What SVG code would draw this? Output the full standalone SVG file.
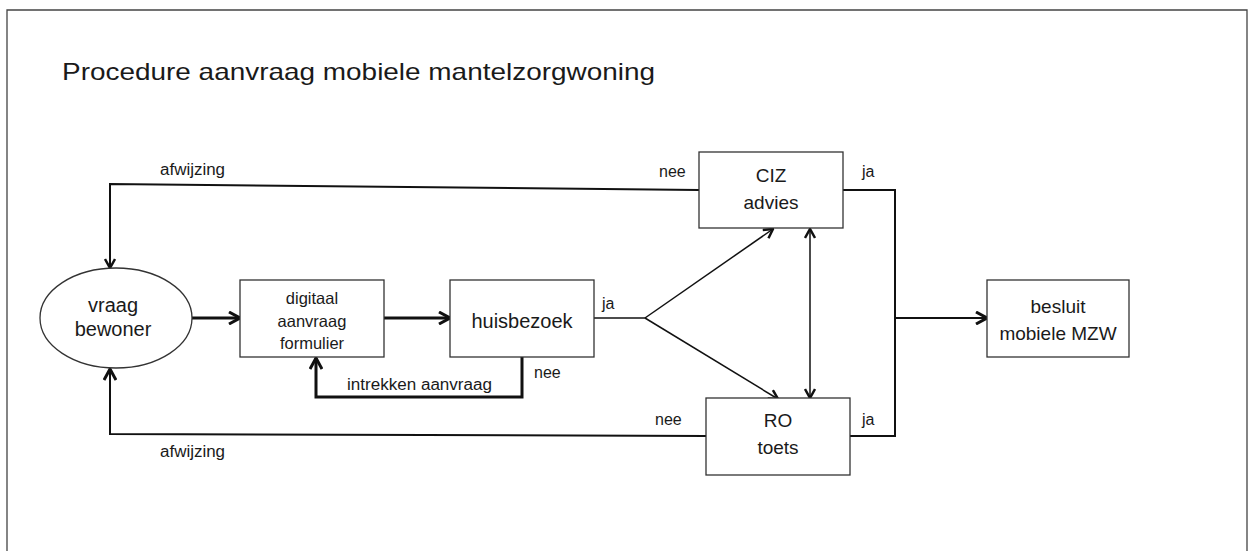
<svg xmlns="http://www.w3.org/2000/svg" width="1252" height="551" viewBox="0 0 1252 551">
<defs>
<style>
text{font-family:"Liberation Sans",Arial,sans-serif;fill:#1a1a1a}
.t{font-size:24px}
.n{font-size:19px;text-anchor:middle}
.s{font-size:16.5px;text-anchor:middle}
.l{font-size:16px}
.box{fill:#fff;stroke:#333;stroke-width:1.3}
.c{fill:none;stroke:#111;stroke-width:2}
.k{fill:none;stroke:#111;stroke-width:3}
.th{fill:none;stroke:#111;stroke-width:1.5}
</style>
<marker id="ah" viewBox="0 0 12 12" refX="11" refY="6" markerWidth="12" markerHeight="12" markerUnits="userSpaceOnUse" orient="auto-start-reverse">
<path d="M2,1 L11,6 L2,11" fill="none" stroke="#111" stroke-width="2.5"/>
</marker>
<marker id="ahk" viewBox="0 0 14 14" refX="13" refY="7" markerWidth="14" markerHeight="14" markerUnits="userSpaceOnUse" orient="auto-start-reverse">
<path d="M2,1 L13,7 L2,13" fill="none" stroke="#111" stroke-width="3"/>
</marker>
</defs>
<rect width="1252" height="551" fill="#fff"/>
<path d="M7,560 V10 H1247 V560" fill="none" stroke="#444" stroke-width="1.3"/>
<text class="t" x="62" y="80" textLength="593" lengthAdjust="spacingAndGlyphs">Procedure aanvraag mobiele mantelzorgwoning</text>

<g id="connectors">
<path class="k" d="M192,318 H240" marker-end="url(#ahk)"/>
<path class="k" d="M384,318 H450" marker-end="url(#ahk)"/>
<path class="k" d="M522,357 V397 H316 V358" marker-end="url(#ahk)"/>
<path class="th" d="M594,318 H645"/>
<path class="th" d="M645,318 L773,229" marker-end="url(#ah)"/>
<path class="th" d="M645,318 L778,399" marker-end="url(#ah)"/>
<path class="th" d="M810,229 V398" marker-start="url(#ah)" marker-end="url(#ah)"/>
<path class="c" d="M699,190 L110,184 V268" marker-end="url(#ah)"/>
<path class="c" d="M706,436 L110,434 V369" marker-end="url(#ahk)"/>
<path class="c" d="M843,190 H895 V436 H850"/>
<path class="c" d="M895,318 H987" marker-end="url(#ahk)"/>
</g>

<g id="labels">
<text class="l" x="160" y="175" textLength="65" lengthAdjust="spacingAndGlyphs">afwijzing</text>
<text class="l" x="160" y="457" textLength="65" lengthAdjust="spacingAndGlyphs">afwijzing</text>
<text class="l" x="347" y="390" textLength="145" lengthAdjust="spacingAndGlyphs">intrekken aanvraag</text>
<text class="l" x="534" y="378">nee</text>
<text class="l" x="602" y="309">ja</text>
<text class="l" x="659" y="177">nee</text>
<text class="l" x="862" y="177">ja</text>
<text class="l" x="655" y="425">nee</text>
<text class="l" x="862" y="425">ja</text>
</g>

<g id="vraag-bewoner">
<ellipse class="box" cx="116" cy="318" rx="76" ry="50"/>
<text class="n" x="113" y="312" style="font-size:20px">vraag</text>
<text class="n" x="113" y="336" style="font-size:20px">bewoner</text>
</g>
<g id="digitaal">
<rect class="box" x="240" y="280" width="144" height="77"/>
<text class="s" x="312" y="304">digitaal</text>
<text class="s" x="312" y="327">aanvraag</text>
<text class="s" x="312" y="349">formulier</text>
</g>
<g id="huisbezoek">
<rect class="box" x="450" y="280" width="144" height="77"/>
<text class="n" x="522" y="328" style="font-size:20px">huisbezoek</text>
</g>
<g id="ciz">
<rect class="box" x="699" y="152" width="144" height="76"/>
<text class="n" x="771" y="182">CIZ</text>
<text class="n" x="771" y="209">advies</text>
</g>
<g id="ro">
<rect class="box" x="706" y="398" width="144" height="77"/>
<text class="n" x="778" y="427">RO</text>
<text class="n" x="778" y="454">toets</text>
</g>
<g id="besluit">
<rect class="box" x="987" y="280" width="142" height="77"/>
<text class="n" x="1058" y="313">besluit</text>
<text class="n" x="1058" y="340">mobiele MZW</text>
</g>
</svg>
